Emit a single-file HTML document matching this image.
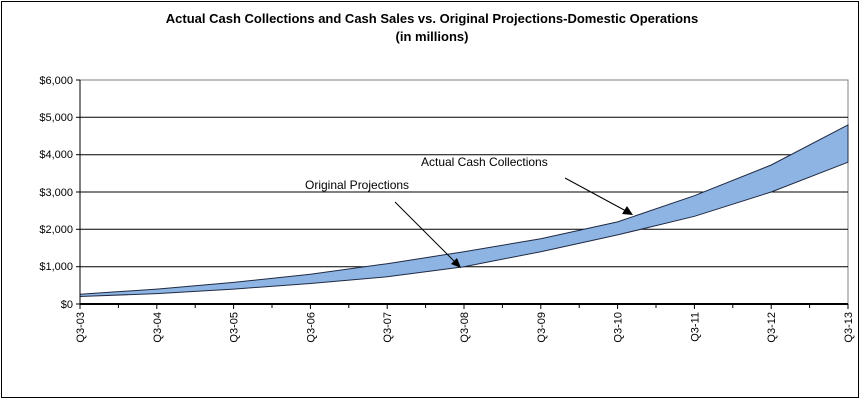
<!DOCTYPE html>
<html><head><style>body{margin:0;background:#fff}svg{display:block}</style></head><body>
<svg width="861" height="400" xmlns="http://www.w3.org/2000/svg" font-family="Liberation Sans, Arial, sans-serif">
<rect x="1.5" y="1.5" width="857" height="396" fill="#fff" stroke="#000"/>
<text x="432" y="23" text-anchor="middle" font-size="13" font-weight="bold">Actual Cash Collections and Cash Sales vs. Original Projections-Domestic Operations</text>
<text x="432" y="41" text-anchor="middle" font-size="13" font-weight="bold">(in millions)</text>
<rect x="80" y="80" width="768" height="224" fill="#fff" stroke="#808080"/>
<g stroke="#000" stroke-width="1">
<line x1="80" y1="117.3" x2="848" y2="117.3"/><line x1="80" y1="154.7" x2="848" y2="154.7"/><line x1="80" y1="192" x2="848" y2="192"/><line x1="80" y1="229.3" x2="848" y2="229.3"/><line x1="80" y1="266.7" x2="848" y2="266.7"/>
</g>
<path d="M80,294.3 L156.8,289.1 L233.6,282.4 L310.4,274.2 L387.2,263.7 L464,251.7 L540.8,238.7 L617.6,221.9 L694.4,195.7 L771.2,165 L848,124.9 L848,162.2 L771.2,192 L694.4,216.3 L617.6,234.9 L540.8,251.7 L464,266.7 L387.2,276.8 L310.4,283.5 L233.6,289.1 L156.8,293.6 L80,296.5 Z" fill="#8db4e2" stroke="#1f2a44" stroke-width="1"/>
<line x1="80" y1="80" x2="80" y2="304" stroke="#000"/>
<line x1="80" y1="304" x2="848" y2="304" stroke="#000" stroke-width="2"/>
<g stroke="#000"><line x1="76" y1="80" x2="80" y2="80"/><line x1="76" y1="117.3" x2="80" y2="117.3"/><line x1="76" y1="154.7" x2="80" y2="154.7"/><line x1="76" y1="192" x2="80" y2="192"/><line x1="76" y1="229.3" x2="80" y2="229.3"/><line x1="76" y1="266.7" x2="80" y2="266.7"/><line x1="76" y1="304" x2="80" y2="304"/></g>
<g font-size="11" text-anchor="end" fill="#000">
<text x="73" y="84">$6,000</text><text x="73" y="121">$5,000</text><text x="73" y="158">$4,000</text><text x="73" y="196">$3,000</text><text x="73" y="233">$2,000</text><text x="73" y="270">$1,000</text><text x="73" y="308">$0</text>
</g>
<g stroke="#000">
<line x1="80" y1="304" x2="80" y2="309"/><line x1="118.4" y1="304" x2="118.4" y2="308"/><line x1="156.8" y1="304" x2="156.8" y2="309"/><line x1="195.2" y1="304" x2="195.2" y2="308"/><line x1="233.6" y1="304" x2="233.6" y2="309"/><line x1="272" y1="304" x2="272" y2="308"/><line x1="310.4" y1="304" x2="310.4" y2="309"/><line x1="348.8" y1="304" x2="348.8" y2="308"/><line x1="387.2" y1="304" x2="387.2" y2="309"/><line x1="425.6" y1="304" x2="425.6" y2="308"/><line x1="464" y1="304" x2="464" y2="309"/><line x1="502.4" y1="304" x2="502.4" y2="308"/><line x1="540.8" y1="304" x2="540.8" y2="309"/><line x1="579.2" y1="304" x2="579.2" y2="308"/><line x1="617.6" y1="304" x2="617.6" y2="309"/><line x1="656" y1="304" x2="656" y2="308"/><line x1="694.4" y1="304" x2="694.4" y2="309"/><line x1="732.8" y1="304" x2="732.8" y2="308"/><line x1="771.2" y1="304" x2="771.2" y2="309"/><line x1="809.6" y1="304" x2="809.6" y2="308"/><line x1="848" y1="304" x2="848" y2="309"/>
</g>
<g font-size="11" text-anchor="end" fill="#000">
<text transform="translate(84,312) rotate(-90)">Q3-03</text>
<text transform="translate(160.8,312) rotate(-90)">Q3-04</text>
<text transform="translate(237.6,312) rotate(-90)">Q3-05</text>
<text transform="translate(314.4,312) rotate(-90)">Q3-06</text>
<text transform="translate(391.2,312) rotate(-90)">Q3-07</text>
<text transform="translate(468,312) rotate(-90)">Q3-08</text>
<text transform="translate(544.8,312) rotate(-90)">Q3-09</text>
<text transform="translate(621.6,312) rotate(-90)">Q3-10</text>
<text transform="translate(698.4,312) rotate(-90)">Q3-11</text>
<text transform="translate(775.2,312) rotate(-90)">Q3-12</text>
<text transform="translate(852,312) rotate(-90)">Q3-13</text>
</g>
<text x="421" y="166" font-size="12">Actual Cash Collections</text>
<text x="305" y="189" font-size="12">Original Projections</text>
<line x1="565" y1="178" x2="626" y2="211" stroke="#000"/>
<polygon points="633,215 622,214 627,206" fill="#000"/>
<line x1="395" y1="202" x2="455" y2="262" stroke="#000"/>
<polygon points="461,268 451,264 457,258" fill="#000"/>
</svg>
</body></html>
